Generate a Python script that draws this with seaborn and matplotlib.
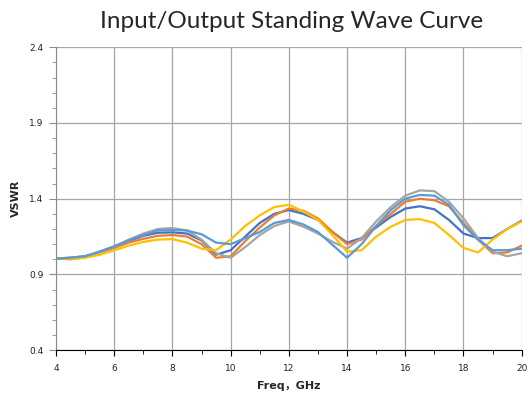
import numpy as np
import pandas as pd
import seaborn as sns
import matplotlib.pyplot as plt
from matplotlib.ticker import MultipleLocator

# frequency points (GHz)
freq = [4, 4.5, 5, 5.5, 6, 6.5, 7, 7.5, 8, 8.5, 9, 9.5, 10, 10.5, 11, 11.5, 12,
        12.5, 13, 13.5, 14, 14.5, 15, 15.5, 16, 16.5, 17, 17.5, 18, 18.5, 19, 19.5, 20]

# VSWR curves
vswr_blue = [1.005, 1.01, 1.02, 1.05, 1.085, 1.12, 1.155, 1.175, 1.178, 1.17, 1.125, 1.03, 1.06,
             1.15, 1.24, 1.30, 1.325, 1.30, 1.26, 1.18, 1.11, 1.14, 1.21, 1.28, 1.335, 1.35, 1.33,
             1.26, 1.17, 1.14, 1.14, 1.20, 1.255]
vswr_orange = [1.005, 1.0, 1.015, 1.045, 1.075, 1.11, 1.135, 1.155, 1.16, 1.15, 1.10, 1.01, 1.02,
               1.12, 1.21, 1.29, 1.335, 1.32, 1.27, 1.18, 1.10, 1.13, 1.22, 1.30, 1.38, 1.40, 1.39,
               1.35, 1.24, 1.13, 1.04, 1.045, 1.09]
vswr_gray = [1.005, 1.01, 1.02, 1.05, 1.085, 1.13, 1.17, 1.20, 1.206, 1.19, 1.13, 1.04, 1.01,
             1.08, 1.16, 1.22, 1.25, 1.215, 1.17, 1.115, 1.07, 1.14, 1.25, 1.345, 1.42, 1.455, 1.45,
             1.38, 1.27, 1.14, 1.05, 1.02, 1.04]
vswr_gold = [1.01, 1.0, 1.01, 1.03, 1.06, 1.09, 1.115, 1.13, 1.133, 1.11, 1.07, 1.06, 1.13,
             1.22, 1.29, 1.345, 1.36, 1.315, 1.26, 1.16, 1.05, 1.06, 1.15, 1.215, 1.26, 1.265, 1.24,
             1.16, 1.075, 1.045, 1.13, 1.20, 1.25]
vswr_lightblue = [1.005, 1.01, 1.02, 1.05, 1.085, 1.125, 1.16, 1.19, 1.193, 1.19, 1.165, 1.11, 1.10,
                  1.14, 1.18, 1.24, 1.26, 1.23, 1.18, 1.095, 1.01, 1.10, 1.22, 1.325, 1.40, 1.425, 1.42,
                  1.36, 1.225, 1.13, 1.06, 1.06, 1.07]

series = ["S1", "S2", "S3", "S4", "S5"]
values = [vswr_blue, vswr_orange, vswr_gray, vswr_gold, vswr_lightblue]
colors = ["#4472C4", "#ED7D31", "#A5A5A5", "#FFC000", "#5B9BD5"]

df = pd.concat([pd.DataFrame({"freq": freq, "vswr": v, "series": s})
                for s, v in zip(series, values)], ignore_index=True)

sns.set_style("white")
plt.rcParams['font.family'] = ['DejaVu Sans', 'Noto Sans CJK SC']

fig = plt.figure(figsize=(5.30, 3.97), dpi=100)
ax = fig.add_axes([0.1057, 0.118, 0.8786, 0.763])

sns.lineplot(data=df, x="freq", y="vswr", hue="series", palette=colors,
             linewidth=1.6, legend=False, ax=ax)

ax.set_xlim(4, 20)
ax.set_ylim(0.4, 2.4)
ax.xaxis.set_major_locator(MultipleLocator(2))
ax.xaxis.set_minor_locator(MultipleLocator(1))
ax.yaxis.set_minor_locator(MultipleLocator(0.1))
ax.set_yticks([0.4, 0.9, 1.4, 1.9, 2.4])
ax.set_yticklabels(["0.4", "0.9", "1.4", "1.9", "2.4"])

ax.grid(True, which="major", color="#A6A6A6", linewidth=0.9)
for side in ["top", "right"]:
    ax.spines[side].set_visible(False)
ax.spines["left"].set_color("#8C8C8C")
ax.spines["bottom"].set_color("black")
ax.tick_params(axis="both", which="both", direction="out", labelsize=6.5,
               labelcolor="#222222", bottom=True, left=True)
ax.tick_params(axis="x", which="major", length=4, color="black", pad=6)
ax.tick_params(axis="x", which="minor", length=3, color="black")
ax.tick_params(axis="y", which="major", length=5, color="#8C8C8C", pad=4)
ax.tick_params(axis="y", which="minor", length=3, color="#8C8C8C")

ax.set_xlabel("Freq，GHz", fontsize=8, fontweight="bold", labelpad=6)
ax.set_ylabel("VSWR", fontsize=8, fontweight="bold", labelpad=6)

fig.text(0.55, 0.945, "Input/Output Standing Wave Curve", ha="center", va="center",
         fontsize=17.5, family=["Lato", "DejaVu Sans"])

fig.savefig("out.png", dpi=100)
